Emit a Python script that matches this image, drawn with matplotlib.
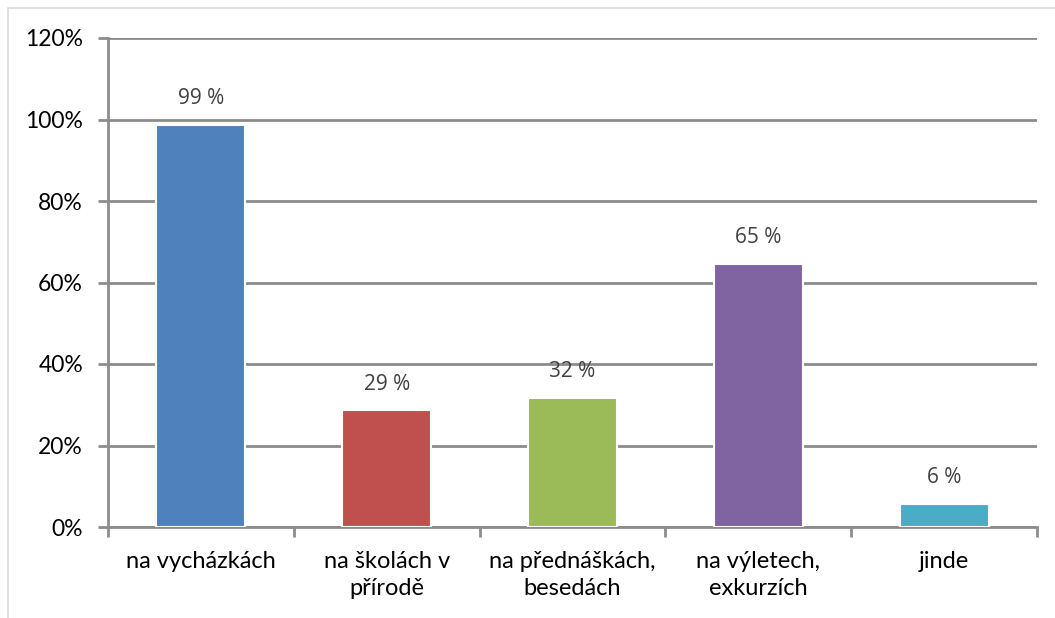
import matplotlib.pyplot as plt
from matplotlib.patches import Rectangle
from matplotlib.ticker import PercentFormatter

# ------------------------------------------------------------------------------
# Data
# ------------------------------------------------------------------------------
categories = ["na vycházkách", "na školách v\npřírodě", "na přednáškách,\nbesedách",
              "na výletech,\nexkurzích", "jinde"]
values = [98.6, 28.6, 31.6, 64.6, 5.6]
value_labels = ["99 %", "29 %", "32 %", "65 %", "6 %"]
colors = ["#4F81BD", "#C0504D", "#9BBB59", "#8064A2", "#4BACC6"]
y_ticks = [0, 20, 40, 60, 80, 100, 120]

GRID = "#8C8C8C"

fig = plt.figure(figsize=(10.55, 6.18), dpi=100)
# light chart-area border (top and left visible in the reference)
fig.patches.append(Rectangle((8 / 1055, -0.1), 1.2, 1 - 8 / 618 + 0.1,
                             transform=fig.transFigure, fill=False,
                             edgecolor="#D9D9D9", linewidth=1.2))

ax = fig.add_axes([108 / 1055, 91 / 618, 929 / 1055, 489 / 618])
x = list(range(len(categories)))
ax.bar(x, values, width=0.48, color=colors, edgecolor="white", linewidth=1.5, zorder=3)

for xi, v, lab in zip(x, values, value_labels):
    ax.annotate(lab, (xi, v), xytext=(0, 19), textcoords="offset points",
                ha="center", va="center", fontsize=15, color="#404040",
                family="Open Sans", zorder=4)

ax.set_xlim(-0.5, len(categories) - 0.5)
ax.set_ylim(0, 120)
ax.set_yticks(y_ticks)
ax.yaxis.set_major_formatter(PercentFormatter(decimals=0))
ax.set_xticks(x)
ax.set_xticklabels(categories, fontsize=17, family="Lato", linespacing=1.4)
ax.set_xticks([i - 0.5 for i in range(len(categories) + 1)], minor=True)
ax.tick_params(axis="x", which="major", length=0, pad=17)
ax.tick_params(axis="x", which="minor", length=7, width=2, color=GRID, direction="out")
ax.tick_params(axis="y", length=7, width=2, color=GRID, labelsize=16.5, pad=11)
for t in ax.get_yticklabels():
    t.set_family("Lato")

ax.yaxis.grid(True, color=GRID, linewidth=2, zorder=0)
ax.set_axisbelow(True)
for s in ["top", "right"]:
    ax.spines[s].set_visible(False)
for s in ["left", "bottom"]:
    ax.spines[s].set_color(GRID)
    ax.spines[s].set_linewidth(2)

fig.savefig("out.png", dpi=100)
